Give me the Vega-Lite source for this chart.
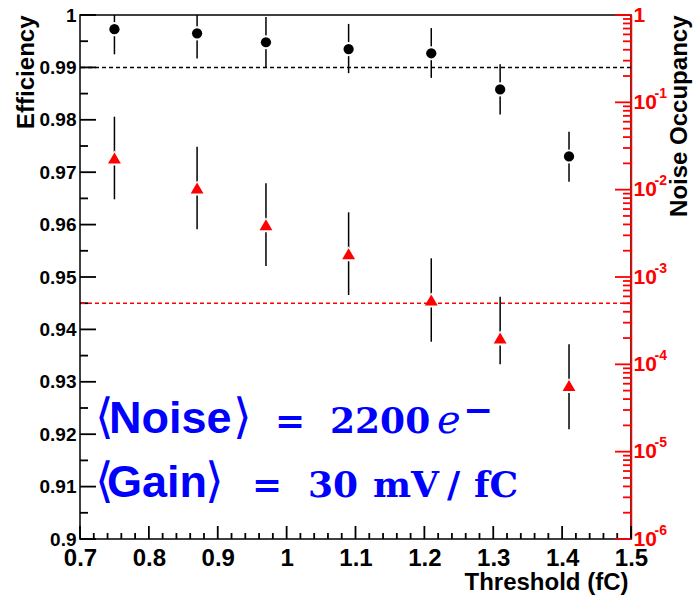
{
  "$schema": "https://vega.github.io/schema/vega-lite/v6.json",
  "width": 551,
  "height": 524,
  "autosize": "none",
  "padding": {"left": 80, "top": 15, "right": 67, "bottom": 58},
  "background": "white",
  "config": {
    "view": {"stroke": "black", "strokeWidth": 1.5},
    "axis": {
      "grid": false,
      "ticks": false,
      "tickSize": 0,
      "labelFont": "Liberation Sans",
      "titleFont": "Liberation Sans",
      "labelFontWeight": "bold",
      "titleFontWeight": "bold",
      "domainWidth": 1.5,
      "labelFlush": false,
      "labelOverlap": false,
      "labelBound": false,
      "titleColor": "black"
    }
  },
  "datasets": {
    "eff": [
      {"x": 0.75, "eff": 0.9973, "lo": 0.9925, "hi": 1.0020},
      {"x": 0.87, "eff": 0.9965, "lo": 0.9917, "hi": 1.0013},
      {"x": 0.97, "eff": 0.9948, "lo": 0.9901, "hi": 0.9996},
      {"x": 1.09, "eff": 0.9935, "lo": 0.9889, "hi": 0.9983},
      {"x": 1.21, "eff": 0.9927, "lo": 0.9880, "hi": 0.9975},
      {"x": 1.31, "eff": 0.9858, "lo": 0.9810, "hi": 0.9906},
      {"x": 1.41, "eff": 0.9730, "lo": 0.9682, "hi": 0.9777}
    ],
    "noise": [
      {"x": 0.75, "occ": 0.02305, "lo": 0.00776, "hi": 0.0685},
      {"x": 0.87, "occ": 0.01045, "lo": 0.003516, "hi": 0.03105},
      {"x": 0.97, "occ": 0.003971, "lo": 0.001336, "hi": 0.01182},
      {"x": 1.09, "occ": 0.001848, "lo": 0.0006218, "hi": 0.005503},
      {"x": 1.21, "occ": 0.0005452, "lo": 0.0001815, "hi": 0.001637},
      {"x": 1.31, "occ": 0.0002002, "lo": 0.0001, "hi": 0.0005946},
      {"x": 1.41, "occ": 0.0000572, "lo": 0.0000181, "hi": 0.0001695}
    ],
    "effref": [{"y": 0.99}],
    "noiseref": [{"y": 0.0005}],
    "leftMajor": [{"v": 0.9},{"v": 0.91},{"v": 0.92},{"v": 0.93},{"v": 0.94},{"v": 0.95},{"v": 0.96},{"v": 0.97},{"v": 0.98},{"v": 0.99},{"v": 1.0}],
    "leftMinor": [{"v": 0.905},{"v": 0.915},{"v": 0.925},{"v": 0.935},{"v": 0.945},{"v": 0.955},{"v": 0.965},{"v": 0.975},{"v": 0.985},{"v": 0.995}],
    "bottomMajor": [{"v": 0.7},{"v": 0.8},{"v": 0.9},{"v": 1.0},{"v": 1.1},{"v": 1.2},{"v": 1.3},{"v": 1.4},{"v": 1.5}],
    "bottomMinor": [{"v": 0.72},{"v": 0.74},{"v": 0.76},{"v": 0.78},{"v": 0.82},{"v": 0.84},{"v": 0.86},{"v": 0.88},{"v": 0.92},{"v": 0.94},{"v": 0.96},{"v": 0.98},{"v": 1.02},{"v": 1.04},{"v": 1.06},{"v": 1.08},{"v": 1.12},{"v": 1.14},{"v": 1.16},{"v": 1.18},{"v": 1.22},{"v": 1.24},{"v": 1.26},{"v": 1.28},{"v": 1.32},{"v": 1.34},{"v": 1.36},{"v": 1.38},{"v": 1.42},{"v": 1.44},{"v": 1.46},{"v": 1.48}],
    "rightMajor": [{"v": 1e-6},{"v": 1e-5},{"v": 1e-4},{"v": 1e-3},{"v": 1e-2},{"v": 0.1},{"v": 1}],
    "rightMinor": [{"v": 2e-6},{"v": 3e-6},{"v": 4e-6},{"v": 5e-6},{"v": 6e-6},{"v": 7e-6},{"v": 8e-6},{"v": 9e-6},{"v": 2e-5},{"v": 3e-5},{"v": 4e-5},{"v": 5e-5},{"v": 6e-5},{"v": 7e-5},{"v": 8e-5},{"v": 9e-5},{"v": 2e-4},{"v": 3e-4},{"v": 4e-4},{"v": 5e-4},{"v": 6e-4},{"v": 7e-4},{"v": 8e-4},{"v": 9e-4},{"v": 2e-3},{"v": 3e-3},{"v": 4e-3},{"v": 5e-3},{"v": 6e-3},{"v": 7e-3},{"v": 8e-3},{"v": 9e-3},{"v": 2e-2},{"v": 3e-2},{"v": 4e-2},{"v": 5e-2},{"v": 6e-2},{"v": 7e-2},{"v": 8e-2},{"v": 9e-2},{"v": 0.2},{"v": 0.3},{"v": 0.4},{"v": 0.5},{"v": 0.6},{"v": 0.7},{"v": 0.8},{"v": 0.9}],
    "brackets": [
      {"x": 0.72178, "y": 0.92023, "t": "⟨"},
      {"x": 0.92214, "y": 0.92023, "t": "⟩"},
      {"x": 0.72178, "y": 0.90802, "t": "⟨"},
      {"x": 0.88148, "y": 0.90802, "t": "⟩"}
    ],
    "sans": [
      {"x": 0.74210, "y": 0.92023, "t": "Noise"},
      {"x": 0.73920, "y": 0.90802, "t": "Gain"}
    ],
    "serif": [
      {"x": 0.98312, "y": 0.92023, "t": "="},
      {"x": 1.06298, "y": 0.92023, "t": "2200"},
      {"x": 1.25608, "y": 0.92242, "t": "−"},
      {"x": 0.94973, "y": 0.90802, "t": "="},
      {"x": 1.03103, "y": 0.90802, "t": "30"},
      {"x": 1.12541, "y": 0.90802, "t": "mV"},
      {"x": 1.23285, "y": 0.90802, "t": "/"},
      {"x": 1.27205, "y": 0.90802, "t": "fC"}
    ],
    "ital": [
      {"x": 1.21833, "y": 0.92023, "t": "e"}
    ]
  },
  "resolve": {"scale": {"y": "independent"}, "axis": {"x": "independent", "y": "independent"}},
  "layer": [
    {
      "resolve": {"axis": {"x": "independent", "y": "independent"}},
      "layer": [
        {
          "data": {"name": "eff"},
          "mark": {"type": "rule", "color": "black", "strokeWidth": 1.5, "clip": true},
          "encoding": {
            "x": {
              "field": "x", "type": "quantitative",
              "scale": {"domain": [0.7, 1.5], "nice": false, "zero": false},
              "axis": {
                "orient": "bottom",
                "values": [0.7,0.8,0.9,1,1.1,1.2,1.3,1.4,1.5],
                "labelExpr": "format(datum.value, '~g')",
                "domain": false,
                "labelFontSize": 24,
                "labelColor": "black",
                "labelPadding": 7,
                "labelOverlap": false,
                "title": "Threshold (fC)",
                "titleFontSize": 24,
                "titleAlign": "right",
                "titleAnchor": "end",
                "titleBaseline": "alphabetic",
                "titleX": 548,
                "titleY": 50
              }
            },
            "y": {
              "field": "lo", "type": "quantitative",
              "scale": {"domain": [0.9, 1.0], "nice": false, "zero": false},
              "axis": {
                "orient": "left",
                "values": [0.9,0.91,0.92,0.93,0.94,0.95,0.96,0.97,0.98,0.99,1.0],
                "labelExpr": "format(datum.value, '~g')",
                "domain": false,
                "labelFontSize": 19,
                "labelColor": "black",
                "labelPadding": 4,
                "labelOverlap": false,
                "title": "Efficiency",
                "titleFontSize": 24,
                "titleAngle": -90,
                "titleAlign": "right",
                "titleBaseline": "alphabetic",
                "titleX": -47,
                "titleY": 0
              }
            },
            "y2": {"field": "hi"}
          }
        },
        {
          "data": {"name": "leftMajor"},
          "mark": {"type": "rule", "color": "black", "strokeWidth": 1.8, "opacity": 1},
          "encoding": {
            "x": {"datum": 0.7, "type": "quantitative", "axis": null},
            "x2": {"datum": 0.72323},
            "y": {"field": "v", "type": "quantitative", "axis": null}
          }
        },
        {
          "data": {"name": "leftMinor"},
          "mark": {"type": "rule", "color": "black", "strokeWidth": 1.8, "opacity": 1},
          "encoding": {
            "x": {"datum": 0.7, "type": "quantitative", "axis": null},
            "x2": {"datum": 0.71162},
            "y": {"field": "v", "type": "quantitative", "axis": null}
          }
        },
        {
          "data": {"name": "bottomMajor"},
          "mark": {"type": "rule", "color": "black", "strokeWidth": 1.8, "opacity": 1},
          "encoding": {
            "x": {"field": "v", "type": "quantitative", "axis": null},
            "y": {"datum": 0.9, "type": "quantitative", "axis": null},
            "y2": {"datum": 0.90248}
          }
        },
        {
          "data": {"name": "bottomMinor"},
          "mark": {"type": "rule", "color": "black", "strokeWidth": 1.8, "opacity": 1},
          "encoding": {
            "x": {"field": "v", "type": "quantitative", "axis": null},
            "y": {"datum": 0.9, "type": "quantitative", "axis": null},
            "y2": {"datum": 0.90115}
          }
        },
        {
          "data": {"name": "eff"},
          "mark": {"type": "point", "shape": "circle", "filled": true, "color": "white", "opacity": 1, "size": 200},
          "encoding": {
            "x": {"field": "x", "type": "quantitative", "axis": null},
            "y": {"field": "eff", "type": "quantitative", "axis": null}
          }
        },
        {
          "data": {"name": "effref"},
          "mark": {"type": "rule", "color": "black", "strokeWidth": 1.5, "strokeDash": [4, 3]},
          "encoding": {
            "y": {"field": "y", "type": "quantitative", "axis": null}
          }
        },
        {
          "data": {"name": "eff"},
          "mark": {"type": "point", "shape": "circle", "filled": true, "color": "black", "opacity": 1, "size": 105},
          "encoding": {
            "x": {"field": "x", "type": "quantitative", "axis": null},
            "y": {"field": "eff", "type": "quantitative", "axis": null}
          }
        },
        {
          "data": {"name": "brackets"},
          "mark": {"type": "text", "font": "DejaVu Sans", "fontWeight": "normal", "fontSize": 48, "color": "#0000ff", "align": "left", "baseline": "alphabetic"},
          "encoding": {
            "x": {"field": "x", "type": "quantitative", "axis": null},
            "y": {"field": "y", "type": "quantitative", "axis": null},
            "text": {"field": "t"}
          }
        },
        {
          "data": {"name": "sans"},
          "mark": {"type": "text", "font": "Liberation Sans", "fontWeight": "bold", "fontSize": 45, "color": "#0000ff", "align": "left", "baseline": "alphabetic"},
          "encoding": {
            "x": {"field": "x", "type": "quantitative", "axis": null},
            "y": {"field": "y", "type": "quantitative", "axis": null},
            "text": {"field": "t"}
          }
        },
        {
          "data": {"name": "serif"},
          "mark": {"type": "text", "font": "DejaVu Serif", "fontWeight": "bold", "fontSize": 36, "color": "#0000ff", "align": "left", "baseline": "alphabetic"},
          "encoding": {
            "x": {"field": "x", "type": "quantitative", "axis": null},
            "y": {"field": "y", "type": "quantitative", "axis": null},
            "text": {"field": "t"}
          }
        },
        {
          "data": {"name": "ital"},
          "mark": {"type": "text", "font": "DejaVu Serif", "fontStyle": "italic", "fontWeight": "normal", "fontSize": 40, "color": "#0000ff", "align": "left", "baseline": "alphabetic"},
          "encoding": {
            "x": {"field": "x", "type": "quantitative", "axis": null},
            "y": {"field": "y", "type": "quantitative", "axis": null},
            "text": {"field": "t"}
          }
        }
      ]
    },
    {
      "resolve": {"axis": {"x": "independent", "y": "independent"}},
      "layer": [
        {
          "data": {"name": "noise"},
          "mark": {"type": "rule", "color": "black", "strokeWidth": 1.5, "clip": true},
          "encoding": {
            "x": {"field": "x", "type": "quantitative", "axis": null},
            "y": {
              "field": "lo", "type": "quantitative",
              "scale": {"type": "log", "domain": [0.000001, 1], "nice": false},
              "axis": {
                "orient": "right",
                "values": [1e-6,1e-5,1e-4,1e-3,1e-2,0.1,1],
                "labelExpr": "datum.value > 0.5 ? '1' : '10'",
                "domain": false,
                "labelColor": "#ff0000",
                "labelFontSize": 21,
                "labelPadding": 2,
                "labelOverlap": false,
                "title": "Noise Occupancy",
                "titleFontSize": 24,
                "titleAngle": -90,
                "titleAlign": "right",
                "titleBaseline": "alphabetic",
                "titleX": 55,
                "titleY": 0
              }
            },
            "y2": {"field": "hi"}
          }
        },
        {
          "data": {"name": "rightMajor"},
          "mark": {"type": "rule", "color": "#ff0000", "strokeWidth": 1.8, "opacity": 1},
          "encoding": {
            "x": {"datum": 1.47677, "type": "quantitative", "axis": null},
            "x2": {"datum": 1.5},
            "y": {"field": "v", "type": "quantitative", "axis": null}
          }
        },
        {
          "data": {"name": "rightMinor"},
          "mark": {"type": "rule", "color": "#ff0000", "strokeWidth": 1.8, "opacity": 1},
          "encoding": {
            "x": {"datum": 1.48838, "type": "quantitative", "axis": null},
            "x2": {"datum": 1.5},
            "y": {"field": "v", "type": "quantitative", "axis": null}
          }
        },
        {
          "data": {"name": "noise"},
          "mark": {"type": "point", "shape": "triangle-up", "filled": true, "color": "white", "opacity": 1, "size": 300},
          "encoding": {
            "x": {"field": "x", "type": "quantitative", "axis": null},
            "y": {"field": "occ", "type": "quantitative", "axis": null}
          }
        },
        {
          "data": {"name": "noiseref"},
          "mark": {"type": "rule", "color": "#ff0000", "strokeWidth": 1.5, "strokeDash": [4, 3]},
          "encoding": {
            "y": {
              "field": "y", "type": "quantitative",
              "axis": {
                "orient": "right",
                "values": [1e-6,1e-5,1e-4,1e-3,1e-2,0.1],
                "labelExpr": "'-' + format(-round(log(datum.value)/LN10), 'd')",
                "domain": true,
                "domainColor": "#ff0000",
                "domainWidth": 1.5,
                "labelColor": "#ff0000",
                "labelFontSize": 14,
                "labelPadding": 23,
                "labelOffset": -9,
                "labelAlign": "left",
                "labelOverlap": false,
                "title": null
              }
            }
          }
        },
        {
          "data": {"name": "noise"},
          "mark": {"type": "point", "shape": "triangle-up", "filled": true, "color": "#ff0000", "opacity": 1, "size": 165},
          "encoding": {
            "x": {"field": "x", "type": "quantitative", "axis": null},
            "y": {"field": "occ", "type": "quantitative", "axis": null}
          }
        }
      ]
    }
  ]
}
